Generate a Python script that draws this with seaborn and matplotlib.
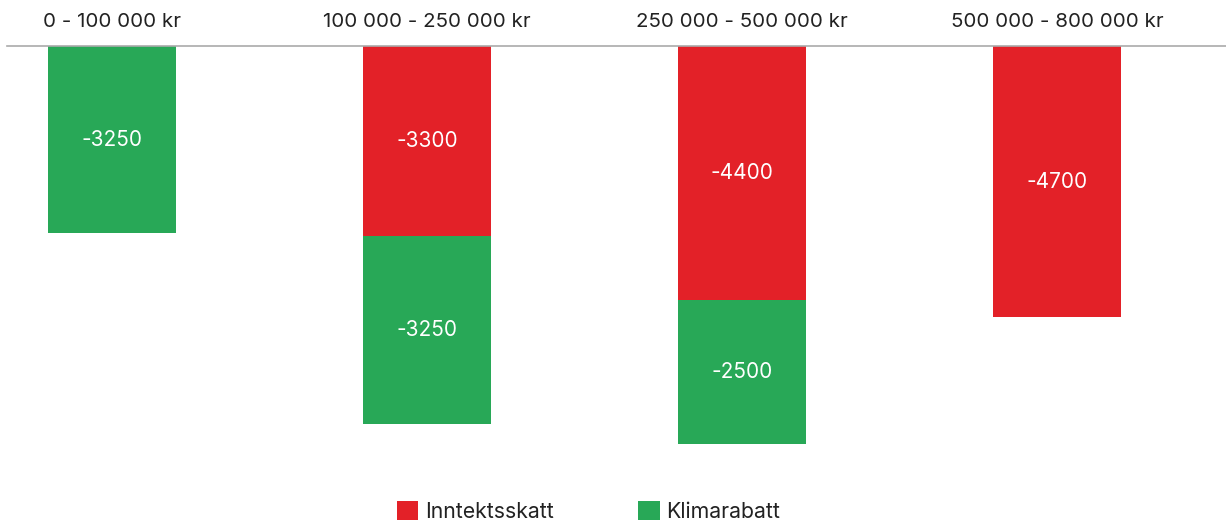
import matplotlib
matplotlib.use("Agg")
import matplotlib.pyplot as plt
from matplotlib.patches import Patch
import seaborn as sns
import pandas as pd
import numpy as np

categories = ["0 - 100 000 kr", "100 000 - 250 000 kr", "250 000 - 500 000 kr", "500 000 - 800 000 kr"]
inntektsskatt = [0, -3300, -4400, -4700]
klimarabatt = [-3250, -3250, -2500, 0]
series_names = ["Inntektsskatt", "Klimarabatt"]

RED = "#E32128"
GREEN = "#28A857"
TXT = "#222222"

sns.set_theme(style="white")
plt.rcParams['font.family'] = ['Inter', 'DejaVu Sans']

fig = plt.figure(figsize=(12.26, 5.26), dpi=100)
ax = fig.add_axes([7/1226, (526-470)/526, 1219/1226, 424/526])

total = [a + b for a, b in zip(inntektsskatt, klimarabatt)]
df_tot = pd.DataFrame({"cat": categories, "val": total})
df_red = pd.DataFrame({"cat": categories, "val": inntektsskatt})

sns.barplot(data=df_tot, x="cat", y="val", color=GREEN, saturation=1, width=0.406, ax=ax, linewidth=0)
sns.barplot(data=df_red, x="cat", y="val", color=RED, saturation=1, width=0.406, ax=ax, linewidth=0)

for i, (r, g) in enumerate(zip(inntektsskatt, klimarabatt)):
    if r != 0:
        ax.text(i, r / 2, f"{r}", ha="center", va="center", color="white", fontsize=15)
    if g != 0:
        ax.text(i, r + g / 2, f"{g}", ha="center", va="center", color="white", fontsize=15)

ax.set_xlim(-0.333, 3.537)
ax.set_ylim(-7350, 0)
ax.xaxis.tick_top()
ax.set_xticks(range(len(categories)))
ax.set_xticklabels(categories, fontsize=14.8, color=TXT)
ax.tick_params(axis="x", length=0, pad=11)
ax.set_yticks([])
ax.set_xlabel("")
ax.set_ylabel("")
for s in ["left", "right", "bottom"]:
    ax.spines[s].set_visible(False)
ax.spines["top"].set_color("#aaaaaa")
ax.spines["top"].set_linewidth(1.2)

handles = [Patch(facecolor=RED, edgecolor="none"), Patch(facecolor=GREEN, edgecolor="none")]
fig.legend(handles, series_names, loc="lower center", bbox_to_anchor=(0.48, -0.028), ncol=2,
           frameon=False, fontsize=15.3, handlelength=1.0, handleheight=1.0,
           handletextpad=0.3, columnspacing=4.0, labelcolor=TXT)

fig.savefig("out.png", dpi=100)
